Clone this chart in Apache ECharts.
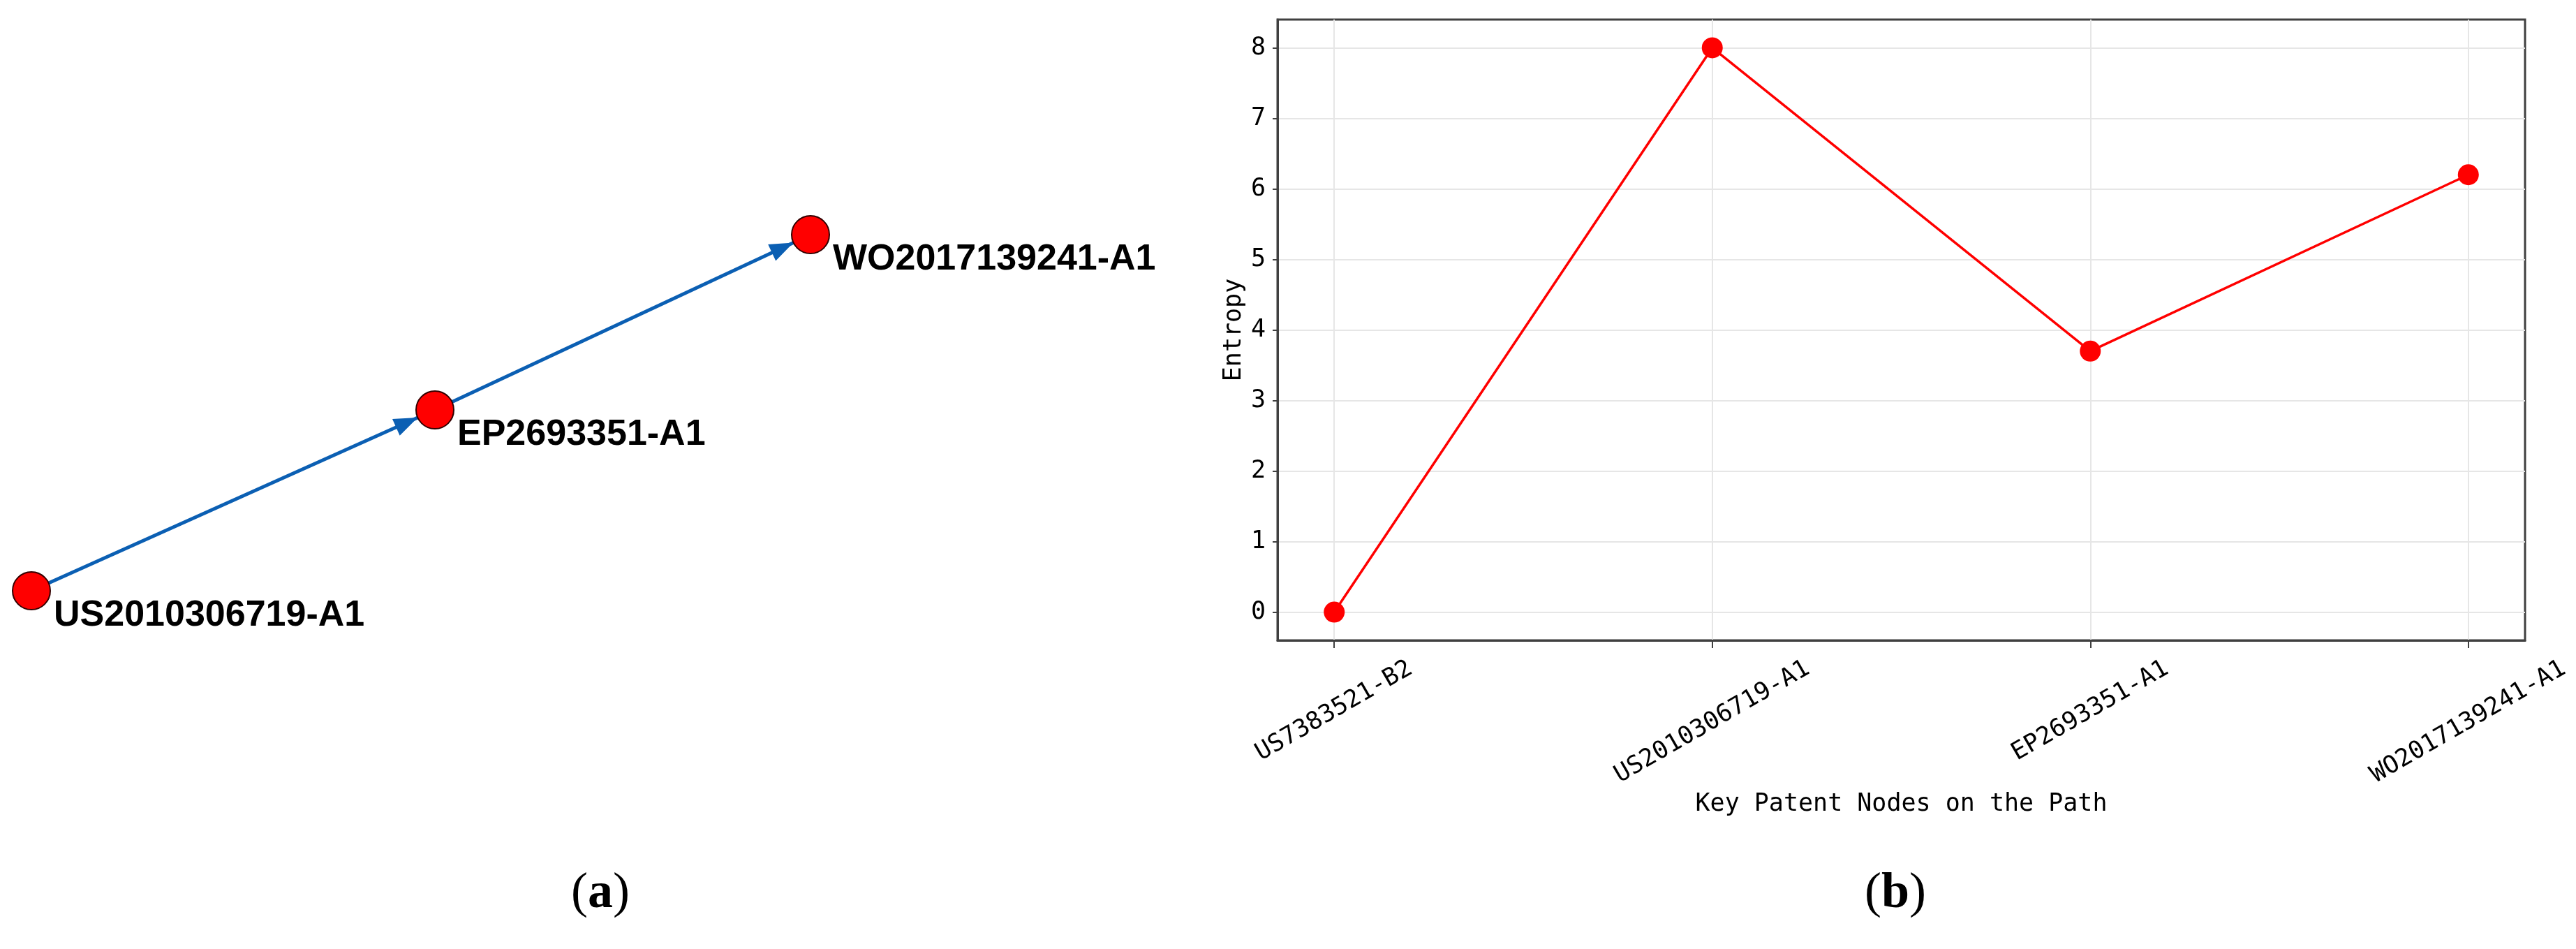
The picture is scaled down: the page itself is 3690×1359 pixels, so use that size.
<!DOCTYPE html>
<html>
<head>
<meta charset="utf-8">
<script src="https://cdn.jsdelivr.net/npm/echarts@6/dist/echarts.min.js"></script>
<style>
html,body{margin:0;padding:0;background:#ffffff;}
#c{width:3690px;height:1359px;}
</style>
</head>
<body>
<div id="c"></div>
<script>
// ---------- Panel (b): entropy along the key path ----------
const categories = ['US7383521-B2', 'US2010306719-A1', 'EP2693351-A1', 'WO2017139241-A1'];
const entropy = [0, 8.0, 3.7, 6.2];
const yTicks = [0, 1, 2, 3, 4, 5, 6, 7, 8];
const xTicks = [0, 1, 2, 3];
const xName = 'Key Patent Nodes on the Path';
const yName = 'Entropy';

// ---------- Panel (a): key path network ----------
const pathNodes = ['US2010306719-A1', 'EP2693351-A1', 'WO2017139241-A1'];
const nodeX = [45, 623, 1161];
const nodeY = [846, 587, 336];
const pathLinks = [[0, 1], [1, 2]];

const captions = ['a', 'b'];

// ---------- styling helpers ----------
const MONO = 'DejaVu Sans Mono';
const tickFont = 35;
const charW = 0.602 * tickFont;
const theta = 30 * Math.PI / 180;
const maxLen = Math.max.apply(null, categories.map(s => s.length));
const rich = {};
categories.forEach((s, i) => {
  const d = (maxLen - s.length) * charW;
  const p = d * Math.sin(theta) * Math.sin(theta);
  const q = d * Math.sin(theta) * Math.cos(theta);
  rich['c' + i] = {
    fontFamily: MONO, fontSize: tickFont, color: '#000',
    padding: [0, 0, q, p]
  };
});

// arrow head whose tip sits at the symbol centre (so it ends at the node border)
const ARROW = 'path://M21,68 L34,34 L47,68 Z M0,0 L0,0.5 M68,0 L68,0.5';

const chart = echarts.init(document.getElementById('c'), null, {renderer: 'canvas'});

const captionRich = {
  p: {fontFamily: 'Liberation Serif', fontSize: 72, color: '#000'},
  b: {fontFamily: 'Liberation Serif', fontSize: 72, fontWeight: 'bold', color: '#000'}
};

const option = {
  backgroundColor: '#ffffff',
  animation: false,
  grid: [
    {left: 1830, top: 28, width: 1787, height: 889, show: true,
     borderColor: '#404040', borderWidth: 3, backgroundColor: 'transparent',
     containLabel: false, outerBoundsMode: 'none'},
    {left: 0, top: 0, width: 1200, height: 1000, show: false,
     containLabel: false, outerBoundsMode: 'none'}
  ],
  xAxis: [
    {
      gridIndex: 0, type: 'value', min: -0.15, max: 3.15,
      axisLine: {show: true, onZero: false, lineStyle: {color: '#404040', width: 3}},
      axisTick: {show: true, customValues: xTicks, length: 11, lineStyle: {color: '#404040', width: 2}},
      axisLabel: {
        show: true, customValues: xTicks, rotate: 30, align: 'center', verticalAlign: 'middle',
        margin: 117, fontFamily: MONO, fontSize: tickFont, color: '#000',
        formatter: function (v) {
          const i = Math.round(v);
          return '{c' + i + '|' + categories[i] + '}';
        },
        rich: rich
      },
      splitLine: {show: true, lineStyle: {color: '#e6e6e6', width: 2}},
      name: xName, nameLocation: 'middle', nameGap: 212,
      nameTextStyle: {fontFamily: MONO, fontSize: tickFont, color: '#000'}
    },
    {gridIndex: 1, type: 'value', min: 0, max: 1200, show: false,
     splitLine: {show: false}}
  ],
  yAxis: [
    {
      gridIndex: 0, type: 'value', min: -0.4, max: 8.4,
      axisLine: {show: true, onZero: false, lineStyle: {color: '#404040', width: 3}},
      axisTick: {show: true, customValues: yTicks, length: 7, lineStyle: {color: '#404040', width: 2}},
      axisLabel: {show: true, customValues: yTicks, margin: 17,
        fontFamily: MONO, fontSize: tickFont, color: '#000'},
      splitLine: {show: true, lineStyle: {color: '#e6e6e6', width: 2}},
      name: yName, nameLocation: 'middle', nameGap: 45, nameRotate: 90,
      nameTextStyle: {fontFamily: MONO, fontSize: tickFont, color: '#000'}
    },
    {gridIndex: 1, type: 'value', min: 0, max: 1000, inverse: true, show: false,
     splitLine: {show: false}}
  ],
  series: [
    {
      type: 'line', xAxisIndex: 0, yAxisIndex: 0,
      data: entropy.map((v, i) => [i, v]),
      symbol: 'circle', symbolSize: 30,
      itemStyle: {color: '#ff0000'},
      lineStyle: {color: '#ff0000', width: 3.5},
      silent: true, z: 5
    },
    {
      type: 'graph', coordinateSystem: 'cartesian2d', xAxisIndex: 1, yAxisIndex: 1,
      layout: 'none',
      symbol: 'circle', symbolSize: 54,
      itemStyle: {color: '#ff0000', borderColor: '#330000', borderWidth: 2},
      label: {show: true, position: 'right', distance: 4, offset: [0, 36],
        fontFamily: 'Liberation Sans', fontWeight: 'bold', fontSize: 52, color: '#000',
        formatter: '{b}'},
      edgeSymbol: ['none', ARROW],
      edgeSymbolSize: 68,
      lineStyle: {color: '#0b5fb3', width: 5, opacity: 1, curveness: 0},
      data: pathNodes.map((n, i) => ({name: n, value: [nodeX[i], nodeY[i]]})),
      links: pathLinks.map(l => ({source: l[0], target: l[1]})),
      emphasis: {disabled: true},
      silent: true
    }
  ],
  graphic: [
    {type: 'text', x: 860, y: 1280, silent: true,
     style: {text: '{p|(}{b|' + captions[0] + '}{p|)}', align: 'center', verticalAlign: 'middle',
       rich: captionRich}},
    {type: 'text', x: 2715, y: 1280, silent: true,
     style: {text: '{p|(}{b|' + captions[1] + '}{p|)}', align: 'center', verticalAlign: 'middle',
       rich: captionRich}}
  ]
};
chart.setOption(option);
</script>
</body>
</html>
